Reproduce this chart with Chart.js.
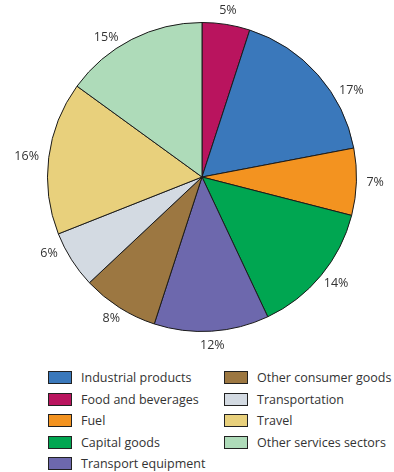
<!DOCTYPE html>
<html lang="en">
  <head>
    <meta charset="UTF-8" />
    <title>Exports by sector</title>
    <script src="https://cdn.jsdelivr.net/npm/chart.js"></script>
    <style>
      body { margin: 0; background: #fff; font-family: "Open Sans", sans-serif; color: #333; }
      .wrap { position: relative; width: 394px; height: 472px; }
      #pie { position: absolute; left: 0; top: 0; }
      .legend { position: absolute; top: 367px; left: 48px; display: flex; }
      .col { width: 176px; }
      .item { display: flex; align-items: center; height: 21.5px; font-size: 12.5px; }
      .box { width: 22px; height: 11px; border: 1px solid #222; margin-right: 9px; flex: none; }
    </style>
  </head>
  <body>
    <div class="wrap">
      <canvas id="pie" width="394" height="360"></canvas>
      <div class="legend" id="legend"></div>
    </div>

    <script>
      // slices clockwise from 12 o'clock
      var sectors = [
        "Food and beverages",
        "Industrial products",
        "Fuel",
        "Capital goods",
        "Transport equipment",
        "Other consumer goods",
        "Transportation",
        "Travel",
        "Other services sectors",
      ];
      var shares = [5, 17, 7, 14, 12, 8, 6, 16, 15];
      var colors = [
        "#b9145e",
        "#3a78bb",
        "#f39320",
        "#00a651",
        "#6d68ad",
        "#9c7741",
        "#d3dae2",
        "#e8d07c",
        "#aedbb9",
      ];
      // legend columns
      var legendLeft = ["Industrial products", "Food and beverages", "Fuel", "Capital goods", "Transport equipment"];
      var legendRight = ["Other consumer goods", "Transportation", "Travel", "Other services sectors"];

      // percentage labels outside each slice
      var outsideLabels = {
        id: "outsideLabels",
        afterDatasetsDraw: function (chart, args, opts) {
          var c = chart.ctx;
          var meta = chart.getDatasetMeta(0);
          var shift = opts.shift || {};
          c.save();
          c.font = "12.5px 'Open Sans', sans-serif";
          c.fillStyle = "#333";
          c.textAlign = "center";
          c.textBaseline = "middle";
          meta.data.forEach(function (arc, i) {
            var p = arc.getProps(["x", "y", "startAngle", "endAngle", "outerRadius"], true);
            var a = (p.startAngle + p.endAngle) / 2 + ((shift[i] || 0) * Math.PI) / 180;
            var txt = shares[i] + "%";
            var hw = c.measureText(txt).width / 2;
            var r = p.outerRadius + 10;
            var x = p.x + Math.cos(a) * (r + hw * Math.abs(Math.cos(a)));
            var y = p.y + Math.sin(a) * (r + 4 * Math.abs(Math.sin(a)));
            c.fillText(txt, x, y);
          });
          c.restore();
        },
      };

      new Chart(document.getElementById("pie"), {
        type: "pie",
        data: {
          labels: sectors,
          datasets: [
            {
              data: shares,
              backgroundColor: colors,
              borderColor: "#1a1a1a",
              borderWidth: 1,
            },
          ],
        },
        options: {
          responsive: false,
          animation: false,
          layout: { padding: { left: 47, right: 37, top: 22, bottom: 28 } },
          plugins: {
            legend: { display: false },
            tooltip: { enabled: false },
            // a few labels sit off the slice middle (degrees)
            outsideLabels: { shift: { 1: 10, 6: 5, 8: -7 } },
          },
        },
        plugins: [outsideLabels],
      });

      function buildColumn(names) {
        var col = document.createElement("div");
        col.className = "col";
        names.forEach(function (n) {
          var item = document.createElement("div");
          item.className = "item";
          var box = document.createElement("span");
          box.className = "box";
          box.style.background = colors[sectors.indexOf(n)];
          item.appendChild(box);
          item.appendChild(document.createTextNode(n));
          col.appendChild(item);
        });
        return col;
      }
      var legend = document.getElementById("legend");
      legend.appendChild(buildColumn(legendLeft));
      legend.appendChild(buildColumn(legendRight));
    </script>
  </body>
</html>
